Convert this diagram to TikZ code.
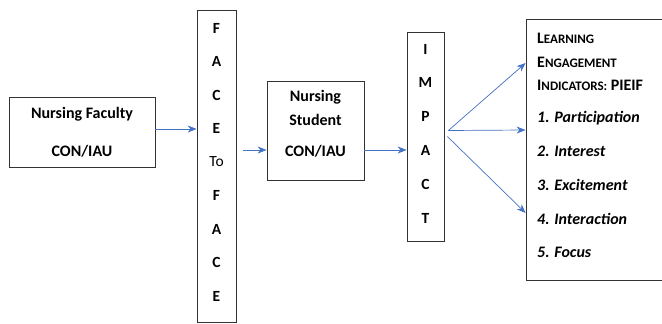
\documentclass[tikz,border=0pt]{standalone}
\usepackage{fontspec}
\setmainfont{Carlito}
\usetikzlibrary{arrows.meta}
\definecolor{arrowblue}{HTML}{4472C4}
\tikzset{box/.style={draw=black!80,line width=0.8pt,inner sep=0},
  txt/.style={font=\bfseries\fontsize{16}{18}\selectfont,inner sep=0},
  letter/.style={font=\bfseries\fontsize{15.5}{17}\selectfont,inner sep=0},
  item/.style={font=\bfseries\itshape\fontsize{16}{18}\selectfont,inner sep=0,anchor=west},
  arr/.style={draw=arrowblue,line width=0.7pt,-{Stealth[length=9pt,width=7pt]}}}
\newcommand{\fakesc}[2]{#1{\fontsize{13}{15}\selectfont #2}}

\begin{document}
\begin{tikzpicture}[x=1pt,y=-1pt]
  \useasboundingbox (0,0) rectangle (662,324);

  %四角形
  \node[box, minimum width=146, minimum height=70] (faculty) at (82,132) {};
  \node[box, minimum width=39, minimum height=312] (face) at (216.5,166) {};
  \node[box, minimum width=97, minimum height=99] (student) at (315.5,130.5) {};
  \node[box, minimum width=37, minimum height=209] (impact) at (425.5,136.5) {};
  \node[box, minimum width=150, minimum height=261] (learn) at (601,149.5) {};

  %ラベル
  \node[txt] (facname) at (82,114) {Nursing Faculty};
  \node[txt] (faccon) at (82,151) {CON/IAU};
  \node[txt] (stuname1) at (315.5,97) {Nursing};
  \node[txt] (stuname2) at (315.5,120) {Student};
  \node[txt] (stucon) at (315.5,151) {CON/IAU};
  \foreach \l [count=\i] in {F,A,C,E,{\mdseries To},F,A,C,E}
    \node[letter] (face\i) at (216.5,{28+33.5*(\i-1)}) {\l};
  \foreach \l [count=\i] in {I,M,P,A,C,T}
    \node[letter] (impact\i) at (425.5,{49+33.8*(\i-1)}) {\l};
  \node[txt, anchor=west] (head1) at (537,38) {\fakesc{L}{EARNING}};
  \node[txt, anchor=west] (head2) at (537,62) {\fakesc{E}{NGAGEMENT}};
  \node[txt, anchor=west] (head3) at (537,85) {\fakesc{I}{NDICATORS:} PIEIF};
  \foreach \t [count=\i] in {Participation,Interest,Excitement,Interaction,Focus}
    \node[item] (item\i) at (537,{118+33.7*(\i-1)}) {\i. \t};

  %矢印
  \coordinate (sin) at ([yshift=-19.5pt]student.west);
  \coordinate (hub) at ([xshift=4pt,yshift=6pt]impact.east);
  \draw[arr] ([yshift=3pt]faculty.east) -- ([yshift=3pt]faculty.east -| face.west);
  \draw[arr] ([xshift=7pt]face.east |- sin) -- (sin);
  \draw[arr] ([yshift=-19.5pt]student.east) -- ([yshift=-19.5pt]student.east -| impact.west);
  \draw[arr] (hub) -- ([yshift=86.5pt]learn.west);
  \draw[arr] (hub) -- ([yshift=19.5pt]learn.west);
  \draw[arr] ([xshift=3pt]impact.east) -- ([yshift=-63.5pt]learn.west);

\end{tikzpicture}
\end{document}
